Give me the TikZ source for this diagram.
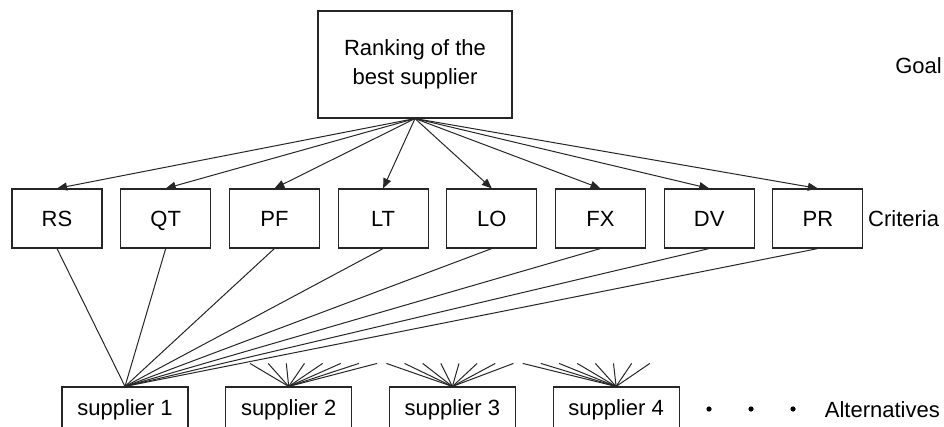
\documentclass[tikz,border=0pt]{standalone}
\usepackage{fontspec}
\setmainfont{Liberation Sans}
\usetikzlibrary{arrows.meta,calc}
\begin{document}
\begin{tikzpicture}[x=1pt,y=-1pt,
  every node/.style={font=\fontsize{22}{29}\selectfont},
  box/.style={draw=black!85,line width=1.1pt,inner sep=0pt,anchor=center},
  critbox/.style={box,minimum width=90pt,minimum height=59pt,text height=15.8pt,text depth=0pt},
  supbox/.style={box,minimum width=126pt,minimum height=45pt},
  conn/.style={draw=black!85,line width=1pt},
  arr/.style={conn,-{Triangle[length=10pt,width=8pt]}},
  lbl/.style={inner sep=0pt}]
\useasboundingbox (0,0) rectangle (944,427);
\clip (0,0) rectangle (944,427);
\node[box,minimum width=194pt,minimum height=107pt,align=center] (goal) at (415,64.5) {Ranking of the\\best supplier};
\foreach \n [count=\i from 0] in {RS,QT,PF,LT,LO,FX,DV,PR}{
  \node[critbox] (\n) at ({57+108.7*\i},218.5) {\n};
}
\foreach \i in {1,2,3,4}{
  \node[supbox] (s\i) at ({125+163.7*(\i-1)},409.5) {supplier \i};
}
\node[lbl,anchor=east] (goallbl) at (942,66) {Goal};
\node[lbl,anchor=west] (critlbl) at (868,219) {Criteria};
\node[lbl,anchor=east] (altlbl) at (940,410) {Alternatives};
\foreach \x [count=\j] in {709,751,793}{
  \fill[black] (\x,409) circle (2.6pt) coordinate (dot\j);
}
\foreach \n in {RS,QT,PF,LT,LO,FX,DV,PR}{
  \draw[arr] (goal.south) -- (\n.north);
  \draw[conn] (\n.south) -- (s1.north);
  \foreach \s in {s2,s3,s4}{
    \draw[conn] (\s.north) -- ($(\s.north)!0.167!(\n.south)$);
  }
}
\end{tikzpicture}
\end{document}
